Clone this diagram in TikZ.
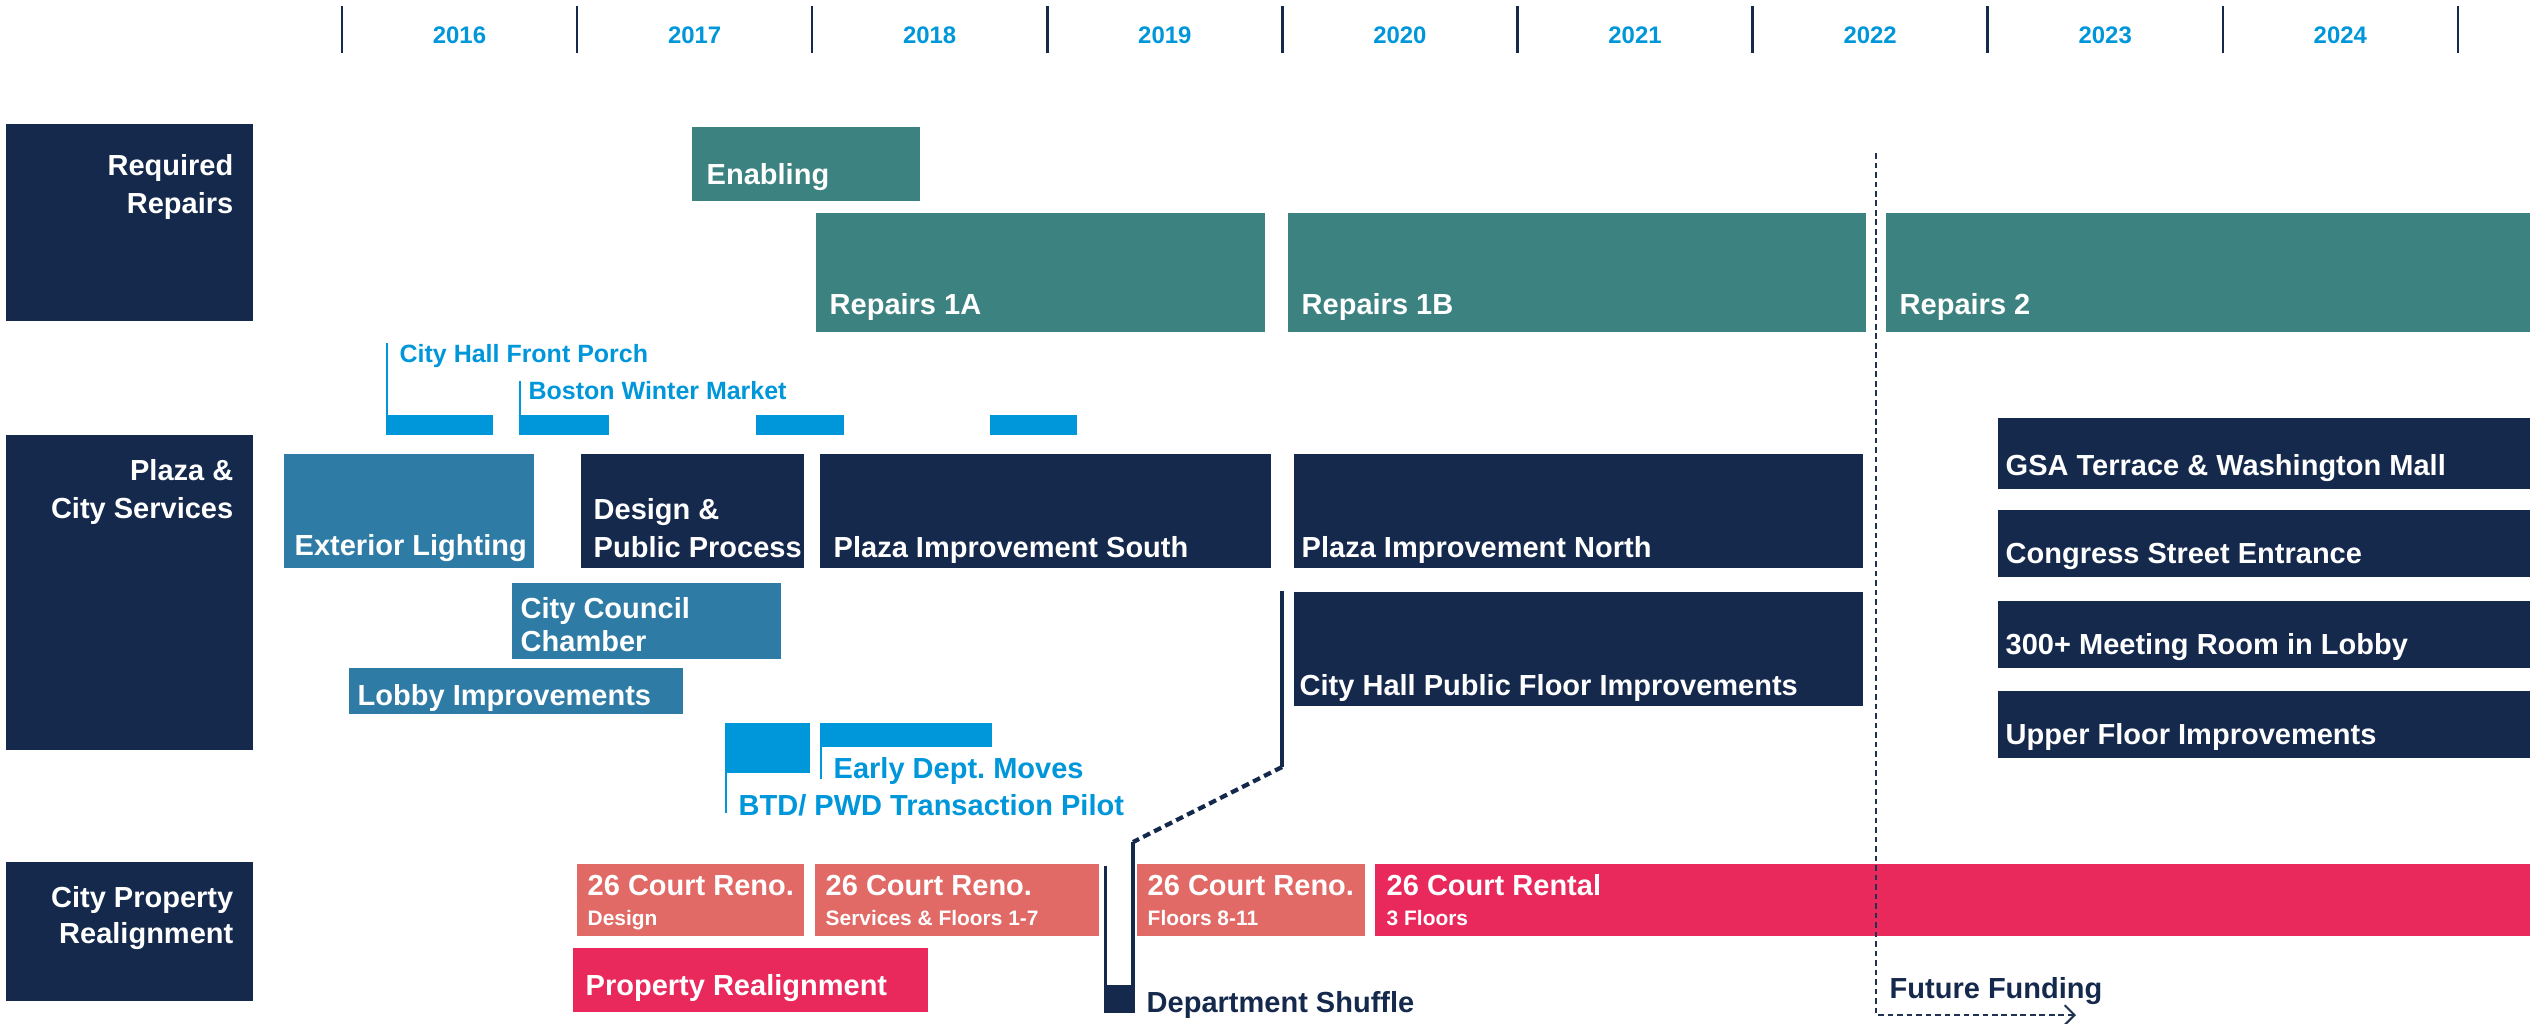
\documentclass[tikz,border=0pt]{standalone}
\usepackage{fontspec}
\setmainfont{Liberation Sans}
\usetikzlibrary{arrows.meta}
\frenchspacing

\definecolor{cnavy}{HTML}{15294D}
\definecolor{cteal}{HTML}{3C8280}
\definecolor{csteel}{HTML}{2E7BA6}
\definecolor{cblue}{HTML}{0096DA}
\definecolor{csalmon}{HTML}{E16966}
\definecolor{cpink}{HTML}{E9285C}

\newcommand{\lblsize}{\fontsize{8.25pt}{10pt}\selectfont\bfseries}
\newcommand{\notesize}{\fontsize{7.1pt}{8.5pt}\selectfont\bfseries}
\newcommand{\yrsize}{\fontsize{6.8pt}{8pt}\selectfont\bfseries}
\newcommand{\subsize}{\fontsize{5.95pt}{7pt}\selectfont\bfseries}

\begin{document}
\begin{tikzpicture}[x=0.01cm, y=-0.01cm]

  \tikzset{lbl/.style={anchor=base west, inner sep=0pt, text=white, font=\lblsize},
           hdr/.style={anchor=base east, inner sep=0pt, text=white, font=\lblsize},
           sublbl/.style={anchor=base west, inner sep=0pt, text=white, font=\subsize},
           note/.style={anchor=base west, inner sep=0pt, text=cblue, font=\notesize},
           tick/.style={cnavy, line width=0.7pt},
           flag/.style={cblue, line width=0.7pt},
           cut/.style={cnavy!90!gray, line width=0.6pt, dash pattern=on 1.6pt off 1.1pt}}

  \useasboundingbox (0,0) rectangle (2530,1023);

  % year scale
  \foreach \i in {0,...,9}
    \draw[tick] (342+235.1*\i,6) -- (342+235.1*\i,53);
  \foreach \yr [count=\i from 0] in {2016,...,2024}
    \node[anchor=base, inner sep=0pt, text=cblue, font=\yrsize] (y\yr) at (459.5+235.1*\i,43) {\yr};

  % row headers
  \fill[cnavy] (6,124) rectangle (253,321);
  \node[hdr] (req1) at (234,175) {Required};
  \node[hdr] (req2) at (234,213) {Repairs};
  \fill[cnavy] (6,435) rectangle (253,750);
  \node[hdr] (pla1) at (234,480) {Plaza \&};
  \node[hdr] (pla2) at (234,518) {City Services};
  \fill[cnavy] (6,862) rectangle (253,1001);
  \node[hdr] (cpr1) at (234,907) {City Property};
  \node[hdr] (cpr2) at (234,943) {Realignment};

  % required repairs
  \fill[cteal] (692,127) rectangle (920,201);
  \node[lbl] (enab) at (706,184) {Enabling};
  \foreach \a/\b/\lab [count=\k] in {816/1265/Repairs 1A, 1288/1866/Repairs 1B, 1886/2530/Repairs 2} {
    \fill[cteal] (\a,213) rectangle (\b,332);
    \node[lbl] (rep\k) at (\a+13,314) {\lab};
  }

  % plaza events
  \draw[flag] (387.2,343) -- (387.2,425);
  \node[note] (porch) at (399,362) {City Hall Front Porch};
  \draw[flag] (520.2,381) -- (520.2,425);
  \node[note] (market) at (528,399) {Boston Winter Market};
  \foreach \a/\b in {386/493, 519/609, 756/844, 990/1077}
    \fill[cblue] (\a,415) rectangle (\b,435);

  % plaza & city services
  \fill[csteel] (284,454) rectangle (534,568);
  \node[lbl] (extl) at (294,555) {Exterior Lighting};
  \fill[cnavy] (581,454) rectangle (804,568);
  \node[lbl] (des1) at (593,519) {Design \&};
  \node[lbl] (des2) at (593,557) {Public Process};
  \fill[cnavy] (820,454) rectangle (1271,568);
  \node[lbl] (pls) at (833,557) {Plaza Improvement South};
  \fill[cnavy] (1294,454) rectangle (1863,568);
  \node[lbl] (pln) at (1301,557) {Plaza Improvement North};
  \fill[csteel] (512,583) rectangle (781,659);
  \node[lbl] (ccc1) at (520,618) {City Council};
  \node[lbl] (ccc2) at (520,651) {Chamber};
  \fill[csteel] (349,668) rectangle (683,714);
  \node[lbl] (lobby) at (357,705) {Lobby Improvements};
  \fill[cnavy] (1294,592) rectangle (1863,706);
  \node[lbl] (pubfl) at (1299,695) {City Hall Public Floor Improvements};

  % later plaza work
  \foreach \a/\b/\lab [count=\k] in {418/489/{GSA Terrace \& Washington Mall}, 510/577/{Congress Street Entrance},
                                     601/668/{300+ Meeting Room in Lobby}, 691/758/{Upper Floor Improvements}} {
    \fill[cnavy] (1998,\a) rectangle (2530,\b);
    \node[lbl] (late\k) at (2005,\b-14) {\lab};
  }

  % department moves
  \fill[cblue] (725,723) rectangle (810,773);
  \draw[flag] (726.2,773) -- (726.2,813);
  \node[note, font=\lblsize] (btd) at (738,815) {BTD/ PWD Transaction Pilot};
  \fill[cblue] (820,723) rectangle (992,747);
  \draw[flag] (821.2,747) -- (821.2,779);
  \node[note, font=\lblsize] (early) at (833,778) {Early Dept. Moves};

  % city property realignment
  \foreach \a/\b/\s [count=\k] in {577/804/Design, 815/1099/{Services \& Floors 1-7}, 1137/1365/{Floors 8-11}} {
    \fill[csalmon] (\a,864) rectangle (\b,936);
    \node[lbl] (reno\k) at (\a+10,895) {26 Court Reno.};
    \node[sublbl] (renos\k) at (\a+10,925) {\s};
  }
  \fill[cpink] (1375,864) rectangle (2530,936);
  \node[lbl] (rent) at (1386,895) {26 Court Rental};
  \node[sublbl] (rents) at (1386,925) {3 Floors};
  \fill[cpink] (573,948) rectangle (928,1012);
  \node[lbl] (prop) at (585,995) {Property Realignment};

  % department shuffle
  \coordinate (pubA) at (1282,591);
  \coordinate (pubB) at (1282,767);
  \coordinate (shufA) at (1133,842);
  \coordinate (shufB) at (1133,1013);
  \draw[cnavy, line width=1.2pt] (pubA) -- (pubB);
  \draw[cnavy, line width=1.2pt, dash pattern=on 2.2pt off 1.3pt] (pubB) -- (shufA);
  \draw[cnavy, line width=1.2pt] (shufA) -- (shufB);
  \draw[cnavy, line width=1.1pt] (1105.5,866) -- (1105.5,990);
  \fill[cnavy] (1104,985) rectangle (1135,1013);
  \node[lbl, text=cnavy] (shuf) at (1146,1012) {Department Shuffle};

  % future funding
  \coordinate (ffA) at (1876,153);
  \coordinate (ffB) at (1876,1015);
  \coordinate (ffC) at (2076,1015);
  \draw[cut, -{Straight Barb[length=2.8pt, width=5.6pt]}] (ffA) -- (ffB) -- (ffC);
  \node[lbl, text=cnavy] (fund) at (1889,998) {Future Funding};

\end{tikzpicture}
\end{document}
